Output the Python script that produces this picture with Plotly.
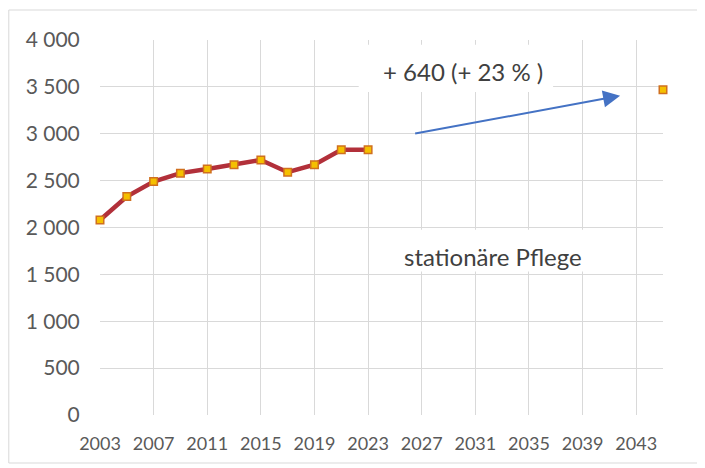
import plotly.graph_objects as go

years = [2003, 2005, 2007, 2009, 2011, 2013, 2015, 2017, 2019, 2021, 2023]
values = [2080, 2330, 2490, 2580, 2625, 2670, 2720, 2590, 2670, 2830, 2830]
proj_year = [2045]
proj_value = [3470]
x_ticks = [2003, 2007, 2011, 2015, 2019, 2023, 2027, 2031, 2035, 2039, 2043]
change_label = "+ 640 (+ 23 % )"
series_label = "stationäre Pflege"

FONT = "Lato"
GRID = "#d9d9d9"
TXT = "#595959"

fig = go.Figure()
fig.add_trace(go.Scatter(
    x=years, y=values, mode="lines+markers",
    line=dict(color="#B2303A", width=4.5),
    marker=dict(symbol="square", size=7.5, color="#F5C000",
                line=dict(color="#D0701F", width=1.5)),
    cliponaxis=False, showlegend=False))
fig.add_trace(go.Scatter(
    x=proj_year, y=proj_value, mode="markers",
    marker=dict(symbol="square", size=7.5, color="#F5C000",
                line=dict(color="#D0701F", width=1.5)),
    cliponaxis=False, showlegend=False))

shapes = [
    dict(type="rect", xref="x", yref="y", x0=2022.3, x1=2036.8, y0=3445, y1=3950,
         fillcolor="white", line=dict(width=0), layer="between"),
    dict(type="rect", xref="x", yref="y", x0=2023.4, x1=2042.6, y0=1530, y1=1975,
         fillcolor="white", line=dict(width=0), layer="between"),
    # outer chart frame
    dict(type="rect", xref="paper", yref="paper", x0=-0.162, x1=1.2, y0=-0.128, y1=1.08,
         fillcolor="rgba(0,0,0,0)", line=dict(color=GRID, width=1), layer="below"),
]

annotations = [
    dict(x=2041.8, y=3405, ax=2026.4, ay=3000, xref="x", yref="y", axref="x", ayref="y",
         text="", showarrow=True, arrowhead=2, arrowsize=1.7, arrowwidth=2,
         arrowcolor="#4472C4"),
    dict(x=2030.1, y=3665, xref="x", yref="y", text=change_label, showarrow=False,
         font=dict(family=FONT, size=24, color="#404040")),
    dict(x=2032.3, y=1690, xref="x", yref="y", text=series_label, showarrow=False,
         font=dict(family=FONT, size=24, color="#404040")),
]

fig.update_layout(
    width=697, height=460,
    margin=dict(l=92, r=42, t=32, b=53),
    paper_bgcolor="white", plot_bgcolor="white",
    separators=", ",
    shapes=shapes, annotations=annotations,
    xaxis=dict(range=[2003, 2045], tickvals=x_ticks, showgrid=True, gridcolor=GRID,
               gridwidth=1, zeroline=False, showline=False,
               ticks="outside", ticklen=12, tickcolor="rgba(0,0,0,0)",
               tickfont=dict(family=FONT, size=18, color=TXT)),
    yaxis=dict(range=[0, 4000], dtick=500, tickformat=",d", showgrid=True,
               gridcolor=GRID, gridwidth=1, zeroline=False, showline=False,
               ticks="outside", ticklen=15, tickcolor="rgba(0,0,0,0)",
               tickfont=dict(family=FONT, size=21, color=TXT)),
)

fig.write_html("out.html")
